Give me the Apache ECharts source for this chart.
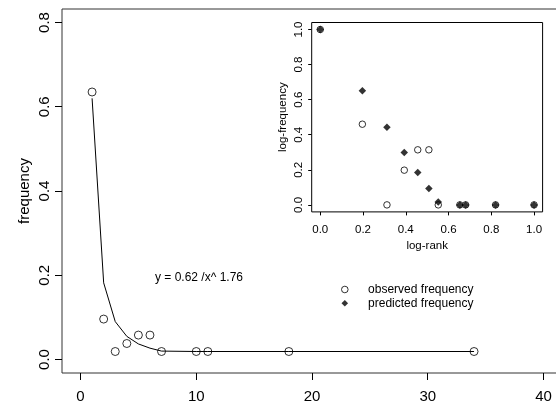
<!doctype html>
<html>
<head>
    <meta charset="utf-8">
    <title>rank-frequency</title>
    <script src="https://cdn.jsdelivr.net/npm/echarts@6/dist/echarts.min.js"></script>
    <style>
        html, body { margin: 0; padding: 0; background: #fff; }
        #chart { width: 556px; height: 405px; }
    </style>
</head>
<body>
    <div id="chart"></div>
    <script>
        // main panel: rank vs frequency
        var ranks = [1, 2, 3, 4, 5, 6, 7, 10, 11, 18, 34];
        var observedFreq = [0.635, 0.096, 0.019, 0.038, 0.058, 0.058, 0.019, 0.019, 0.019, 0.019, 0.019];
        var predictedFreq = [0.62, 0.182, 0.09, 0.055, 0.037, 0.027, 0.02, 0.019, 0.019, 0.019, 0.019];
        // inset: normalised logs
        var logRank = [0, 0.197, 0.312, 0.393, 0.456, 0.508, 0.552, 0.653, 0.68, 0.82, 1.0];
        var logObserved = [1, 0.46, 0, 0.198, 0.314, 0.314, 0, 0, 0, 0, 0];
        var logPredicted = [1, 0.651, 0.443, 0.299, 0.185, 0.093, 0.017, 0, 0, 0, 0];
        // tick labels
        var mainXTicks = [0, 10, 20, 30, 40];
        var mainYTicks = [0, 0.2, 0.4, 0.6, 0.8];
        var insetTicks = [0, 0.2, 0.4, 0.6, 0.8, 1.0];

        function pairs(xs, ys) {
            var out = [];
            for (var i = 0; i < xs.length; i++) out.push([xs[i], ys[i]]);
            return out;
        }

        var font = 'Liberation Sans, Arial, Helvetica, sans-serif';
        var fmt1 = function (v) { return v.toFixed(1); };

        var chart = echarts.init(document.getElementById('chart'), null, { renderer: 'canvas' });
        var option = {
            animation: false,
            backgroundColor: '#fff',
            textStyle: { fontFamily: font, color: '#000' },
            grid: [
                { left: 62, top: 9, right: -6, bottom: 32, show: true, borderColor: '#333', borderWidth: 1, containLabel: false, outerBoundsMode: 'none' },
                { left: 311.7, top: 22.5, right: 13.4, bottom: 193.1, show: true, backgroundColor: '#fff', borderColor: '#000', borderWidth: 1, containLabel: false, outerBoundsMode: 'none', z: 5 }
            ],
            xAxis: [
                {
                    gridIndex: 0, type: 'value', min: -1.6, max: 41.6,
                    splitLine: { show: false }, axisLine: { show: false, onZero: false },
                    axisTick: { show: true, length: 7, inside: false, customValues: mainXTicks, lineStyle: { color: '#000' } },
                    axisLabel: { customValues: mainXTicks, fontSize: 15, margin: 16, color: '#000', fontFamily: font }
                },
                {
                    gridIndex: 1, type: 'value', min: -0.04, max: 1.04,
                    name: 'log-rank', nameLocation: 'middle', nameGap: 28, nameMoveOverlap: false,
                    nameTextStyle: { fontSize: 11.5, color: '#000', fontFamily: font },
                    splitLine: { show: false }, axisLine: { show: false, onZero: false },
                    axisTick: { show: true, length: 3.5, customValues: insetTicks, lineStyle: { color: '#000' } },
                    axisLabel: { customValues: insetTicks, formatter: fmt1, fontSize: 11.5, margin: 12, color: '#000', fontFamily: font }
                }
            ],
            yAxis: [
                {
                    gridIndex: 0, type: 'value', min: -0.032, max: 0.832,
                    name: 'frequency', nameLocation: 'middle', nameGap: 30, nameMoveOverlap: false,
                    nameTextStyle: { fontSize: 15, color: '#000', fontFamily: font },
                    splitLine: { show: false }, axisLine: { show: false, onZero: false },
                    axisTick: { show: true, length: 7, customValues: mainYTicks, lineStyle: { color: '#000' } },
                    axisLabel: { customValues: mainYTicks, formatter: fmt1, rotate: 90, fontSize: 15, margin: 10, color: '#000', fontFamily: font }
                },
                {
                    gridIndex: 1, type: 'value', min: -0.04, max: 1.04,
                    name: 'log-frequency', nameLocation: 'middle', nameGap: 23, nameMoveOverlap: false,
                    nameTextStyle: { fontSize: 11.5, color: '#000', fontFamily: font },
                    splitLine: { show: false }, axisLine: { show: false, onZero: false },
                    axisTick: { show: true, length: 3.5, customValues: insetTicks, lineStyle: { color: '#000' } },
                    axisLabel: { customValues: insetTicks, formatter: fmt1, rotate: 90, fontSize: 11.5, margin: 6.5, color: '#000', fontFamily: font }
                }
            ],
            legend: {
                orient: 'vertical', left: 336, top: 278.5,
                itemWidth: 6.6, itemHeight: 6.6, itemGap: 1.7,
                selectedMode: false,
                textStyle: { fontSize: 12, color: '#000', fontFamily: font, padding: [0, 0, 0, 15] },
                data: [
                    { name: 'observed frequency', icon: 'circle', itemStyle: { color: '#fff', borderColor: '#000', borderWidth: 1 } },
                    { name: 'predicted frequency', icon: 'diamond', itemStyle: { color: '#000', borderWidth: 0 } }
                ]
            },
            graphic: [
                {
                    type: 'text', left: 155, top: 272,
                    style: { text: 'y = 0.62 /x^ 1.76', font: '12px ' + font, fill: '#000' }
                }
            ],
            series: [
                {
                    name: 'observed frequency', type: 'scatter', xAxisIndex: 1, yAxisIndex: 1, z: 6,
                    data: pairs(logRank, logObserved),
                    symbol: 'circle', symbolSize: 6.5,
                    itemStyle: { color: '#fff', borderColor: '#000', borderWidth: 1 }
                },
                {
                    name: 'predicted frequency', type: 'scatter', xAxisIndex: 1, yAxisIndex: 1, z: 7,
                    data: pairs(logRank, logPredicted),
                    symbol: 'diamond', symbolSize: 7.5,
                    itemStyle: { color: '#000' }
                },
                {
                    name: 'predicted frequency', type: 'line', xAxisIndex: 0, yAxisIndex: 0,
                    data: pairs(ranks, predictedFreq),
                    showSymbol: false, symbol: 'none',
                    lineStyle: { color: '#000', width: 1 }
                },
                {
                    name: 'observed frequency', type: 'scatter', xAxisIndex: 0, yAxisIndex: 0,
                    data: pairs(ranks, observedFreq),
                    symbol: 'circle', symbolSize: 8,
                    itemStyle: { color: 'rgba(0,0,0,0)', borderColor: '#000', borderWidth: 1 }
                }
            ]
        };
        chart.setOption(option);
    </script>
</body>
</html>
